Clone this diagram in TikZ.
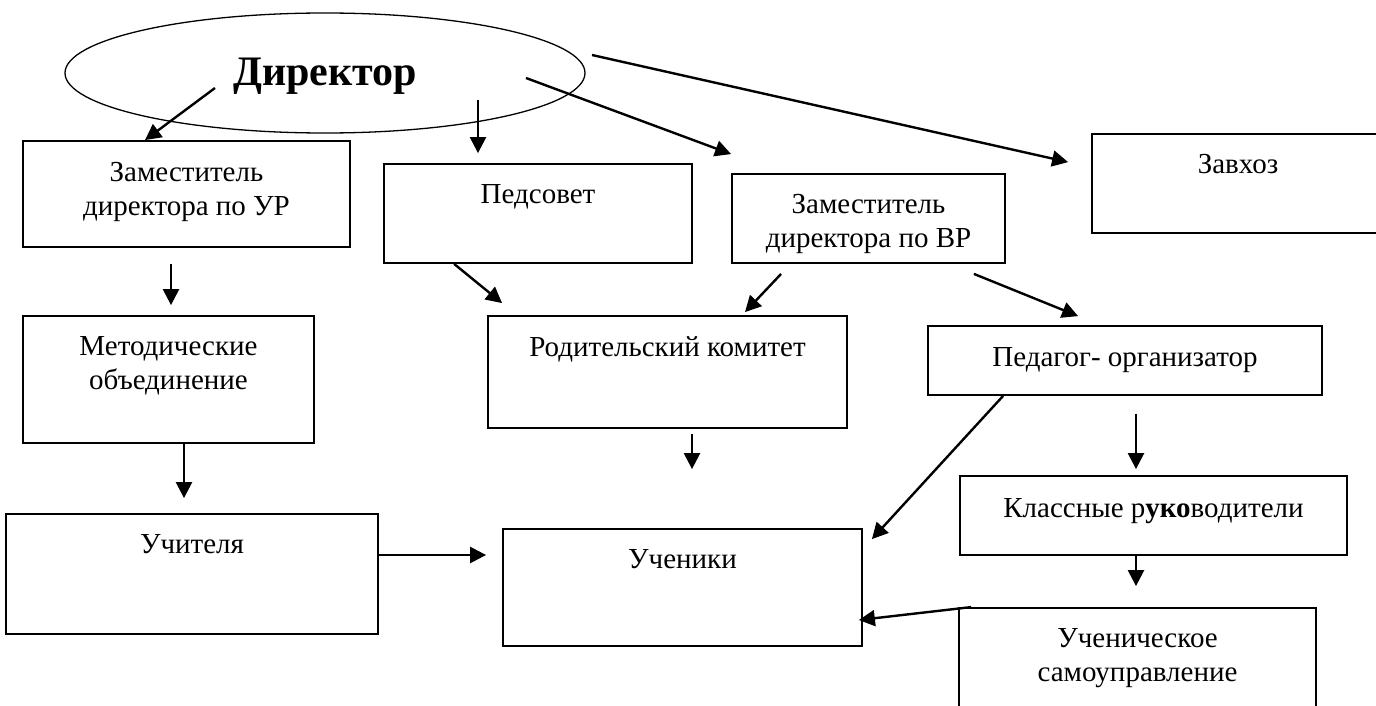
\documentclass[tikz,border=0pt]{standalone}
\usepackage{fontspec}
\setmainfont{Liberation Serif}
\usetikzlibrary{arrows.meta,calc,positioning,shapes.geometric}

\tikzset{
  box/.style={draw, line width=1.8pt, rectangle, inner sep=0pt},
  txt/.style={align=center, anchor=north, inner sep=0pt, font=\fontsize{29}{34}\selectfont},
  arr/.style={line width=2.4pt, -{Triangle[length=16pt,width=16pt]}}
}

\begin{document}
\begin{tikzpicture}[x=1pt,y=-1pt]
  \useasboundingbox (0,0) rectangle (1376,706);
  \node[draw, ellipse, line width=1.3pt, minimum width=520pt, minimum height=120pt, inner sep=0pt, text depth=2pt, font=\fontsize{42}{48}\selectfont\bfseries] (dir) at (325,73) {Директор};
  \node[box, minimum width=327pt, minimum height=106pt] (zur) at (186.5,194) {};
  \node[box, minimum width=308pt, minimum height=99pt] (ped) at (538,213.5) {};
  \node[box, minimum width=273pt, minimum height=89pt] (zvr) at (868.5,218.5) {};
  \node[box, minimum width=292pt, minimum height=99pt] (zav) at (1238,183.5) {};
  \node[box, minimum width=291pt, minimum height=127pt] (met) at (168.5,379.5) {};
  \node[box, minimum width=359pt, minimum height=112pt] (rod) at (667.5,372) {};
  \node[box, minimum width=394pt, minimum height=69pt] (porg) at (1125,360.5) {};
  \node[box, minimum width=372pt, minimum height=120pt] (uch) at (192,574) {};
  \node[box, minimum width=359pt, minimum height=117pt] (stu) at (682.5,587.5) {};
  \node[box, minimum width=387pt, minimum height=79pt] (kla) at (1153.5,515.5) {};
  \node[box, minimum width=357pt, minimum height=104pt] (sam) at (1137.5,660) {};

  \node[txt] (zur-t) at ($(zur.north)+(0,22)$) {Заместитель\\директора по УР};
  \node[txt] (ped-t) at ($(ped.north)+(0,21)$) {Педсовет};
  \node[txt] (zvr-t) at ($(zvr.north)+(0,21)$) {Заместитель\\директора по ВР};
  \node[txt] (zav-t) at ($(zav.north)+(0,21)$) {Завхоз};
  \node[txt] (met-t) at ($(met.north)+(0,21)$) {Методические\\объединение};
  \node[txt] (rod-t) at ($(rod.north)+(0,21)$) {Родительский комитет};
  \node[txt] (porg-t) at ($(porg.north)+(0,22)$) {Педагог- организатор};
  \node[txt] (uch-t) at ($(uch.north)+(0,21)$) {Учителя};
  \node[txt] (stu-t) at ($(stu.north)+(0,21)$) {Ученики};
  \node[txt] (kla-t) at ($(kla.north)+(0,23)$) {Классные р\textbf{уко}водители};
  \node[txt] (sam-t) at ($(sam.north)+(0,21)$) {Ученическое\\самоуправление};

  \draw[arr] ($(dir)+(-110,15)$) -- ($(zur.north)+(-41.5,0)$);
  \draw[arr] ($(dir)+(153,27)$) -- ($(ped.north)+(-60,-10)$);
  \draw[arr] ($(dir)+(201,5)$) -- ($(zvr.north west)+(0,-19)$);
  \draw[arr] ($(dir)+(267,-18)$) -- ($(zav.north west)+(-23,29)$);
  \draw[arr] ($(zur.south)+(-15.5,16)$) -- ($(met.north)+(2.5,-10)$);
  \draw[arr] ($(ped.south west)+(71,0)$) -- ($(rod.north west)+(15,-12)$);
  \draw[arr] ($(zvr.south west)+(50,10)$) -- ($(rod.north)+(77.5,-3)$);
  \draw[arr] ($(zvr.south east)+(-32,10)$) -- ($(porg.north west)+(151,-9)$);
  \draw[arr] ($(met.south)+(15.5,0)$) -- ($(uch.north)+(-8,-15)$);
  \draw[arr] ($(uch.east)+(0,-19)$) -- ($(stu.west)+(-16,-32.5)$);
  \draw[arr] ($(rod.south)+(24.5,5)$) -- ($(stu.north)+(9.5,-59)$);
  \draw[arr] ($(porg.south west)+(76,0)$) -- ($(stu.north east)+(9,11)$);
  \draw[arr] ($(porg.south)+(11,18)$) -- ($(kla.north)+(-17.5,-6)$);
  \draw[arr] ($(kla.south)+(-17.5,0)$) -- ($(sam.north)+(-1.5,-21)$);
  \draw[arr] ($(sam.north west)+(13,0)$) -- ($(stu.east)+(-4,32.5)$);
\end{tikzpicture}
\end{document}
